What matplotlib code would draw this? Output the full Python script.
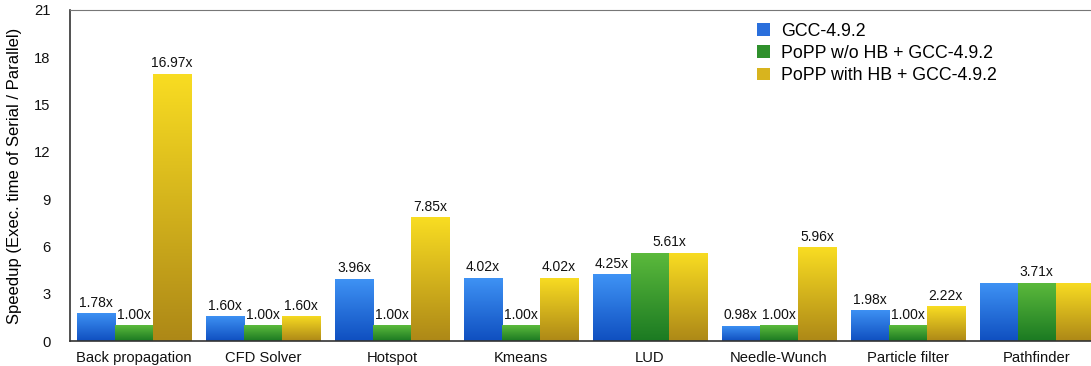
import numpy as np
import matplotlib.pyplot as plt
from matplotlib.colors import LinearSegmentedColormap
from matplotlib.patches import Patch

plt.rcParams['font.family'] = ['Liberation Sans', 'DejaVu Sans']

# Benchmarks and measured speedups
benchmarks = ['Back propagation', 'CFD Solver', 'Hotspot', 'Kmeans', 'LUD',
              'Needle-Wunch', 'Particle filter', 'Pathfinder']
gcc = [1.78, 1.60, 3.96, 4.02, 4.25, 0.98, 1.98, 3.71]
popp_no_hb = [1.00, 1.00, 1.00, 1.00, 5.61, 1.00, 1.00, 3.71]
popp_hb = [16.97, 1.60, 7.85, 4.02, 5.61, 5.96, 2.22, 3.71]
series_names = ['GCC-4.9.2', 'PoPP w/o HB + GCC-4.9.2', 'PoPP with HB + GCC-4.9.2']

# top / bottom colours of each bar gradient, plus the legend swatch
gradients = [('#3f93f5', '#0f4fc0'),
             ('#5cba3c', '#1b7a22'),
             ('#f9dd22', '#ad8817')]
swatches = ['#2a6fdc', '#2f902c', '#d8b41e']

fig = plt.figure(figsize=(10.91, 3.66), dpi=100)
ax = fig.add_axes([0.0642, 0.0683, 0.9358, 0.9044])

x = np.arange(len(benchmarks))
width = 0.295
series = [gcc, popp_no_hb, popp_hb]
grad = np.linspace(1, 0, 256).reshape(-1, 1)

for i, (vals, (top, bot)) in enumerate(zip(series, gradients)):
    cmap = LinearSegmentedColormap.from_list('g%d' % i, [bot, top])
    pos = x + (i - 1) * width
    bars = ax.bar(pos, vals, width, color='none', edgecolor='none')
    for b in bars:
        bx, by = b.get_x(), b.get_y()
        bw, bh = b.get_width(), b.get_height()
        im = ax.imshow(grad, cmap=cmap, aspect='auto', vmin=0, vmax=1,
                       extent=[bx, bx + bw, by, by + bh], zorder=2)
        im.set_clip_path(b)

# value labels: runs of equal neighbouring bars share one label
for g in range(len(benchmarks)):
    vals = [s[g] for s in series]
    i = 0
    while i < 3:
        j = i
        while j + 1 < 3 and vals[j + 1] == vals[i]:
            j += 1
        cx = x[g] + ((i + j) / 2 - 1) * width
        ax.text(cx, vals[i] + 0.2, '%.2fx' % vals[i], ha='center', va='bottom',
                fontsize=10, color='#111111', zorder=3)
        i = j + 1

ax.set_xlim(-0.496, 7.42)
ax.set_ylim(0, 21)
ax.set_yticks(np.arange(0, 22, 3))
ax.set_xticks(x)
ax.set_xticklabels(benchmarks, fontsize=10.6)
ax.tick_params(axis='both', length=0, colors='#111111')
ax.tick_params(axis='y', labelsize=10.6, pad=14)
ax.tick_params(axis='x', pad=7)
ax.set_ylabel('Speedup (Exec. time of Serial / Parallel)', fontsize=12, labelpad=9)

ax.spines['right'].set_visible(False)
ax.spines['top'].set_color('#777777')
ax.spines['left'].set_color('#333333')
ax.spines['bottom'].set_color('#333333')
ax.spines['left'].set_linewidth(1.2)
ax.spines['bottom'].set_linewidth(1.2)

handles = [Patch(facecolor=c, edgecolor='none') for c in swatches]
ax.legend(handles, series_names, loc='upper left', bbox_to_anchor=(0.673, 0.962),
          frameon=False, fontsize=12.8, handlelength=0.72, handleheight=0.72,
          handletextpad=0.62, labelspacing=0.3, borderpad=0, borderaxespad=0)

fig.savefig('out.png', dpi=100)
